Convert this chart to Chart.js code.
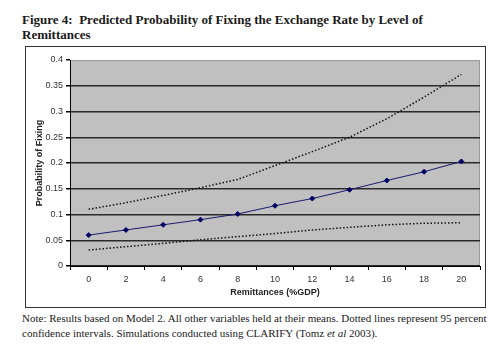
<!DOCTYPE html>
<html>
<head>
<meta charset="utf-8">
<script src="https://cdn.jsdelivr.net/npm/chart.js@4.4.0/dist/chart.umd.min.js"></script>
<style>
  html, body { margin: 0; padding: 0; background: #fff; }
  body { width: 500px; height: 353px; position: relative; overflow: hidden; }
  #title { position: absolute; left: 22px; top: 12px; font-family: "Liberation Serif", "Times New Roman", serif; font-weight: bold; font-size: 13px; line-height: 15px; color: #1a1a1a; white-space: nowrap; }
  #box { position: absolute; left: 25px; top: 46px; width: 459px; height: 260px; border: 1px solid #333; }
  #note { position: absolute; left: 22px; top: 311px; font-family: "Liberation Serif", "Times New Roman", serif; font-size: 11px; line-height: 14.5px; color: #1a1a1a; white-space: nowrap; }
  canvas { display: block; }
</style>
</head>
<body>
<div id="title">Figure 4:&nbsp; Predicted Probability of Fixing the Exchange Rate by Level of<br>Remittances</div>
<div id="box"><canvas id="c" width="459" height="260"></canvas></div>
<div id="note">Note: Results based on Model 2. All other variables held at their means. Dotted lines represent 95 percent<br>confidence intervals. Simulations conducted using CLARIFY (Tomz <i>et al</i> 2003).</div>
<script>
const remittances = ['0', '2', '4', '6', '8', '10', '12', '14', '16', '18', '20'];
const probability = [0.060, 0.070, 0.080, 0.090, 0.101, 0.117, 0.131, 0.148, 0.166, 0.183, 0.203];
const upperCI = [0.110, 0.123, 0.137, 0.152, 0.168, 0.195, 0.222, 0.250, 0.286, 0.328, 0.372];
const lowerCI = [0.031, 0.0375, 0.044, 0.051, 0.057, 0.063, 0.070, 0.075, 0.080, 0.083, 0.084];
const yTicks = [0, 0.05, 0.1, 0.15, 0.2, 0.25, 0.3, 0.35, 0.4];

const plotBg = {
  id: 'plotBg',
  beforeDraw(chart) {
    const { ctx, chartArea: a } = chart;
    ctx.save();
    ctx.fillStyle = '#c0c0c0';
    ctx.fillRect(a.left, a.top, a.right - a.left, a.bottom - a.top);
    ctx.strokeStyle = '#9a9a9a';
    ctx.lineWidth = 1;
    ctx.strokeRect(a.left + 0.5, a.top + 0.5, a.right - a.left - 1, a.bottom - a.top - 1);
    ctx.restore();
  }
};

const axisFont = { family: '"Liberation Sans", Arial, sans-serif', size: 9 };

new Chart(document.getElementById('c'), {
  type: 'line',
  data: {
    labels: remittances,
    datasets: [
      {
        label: 'Upper 95% CI',
        data: upperCI,
        borderColor: '#111',
        borderWidth: 1.5,
        borderDash: [1.5, 2],
        pointRadius: 0,
        fill: false,
        tension: 0
      },
      {
        label: 'Predicted probability',
        data: probability,
        borderColor: '#1a1a6e',
        backgroundColor: '#000066',
        borderWidth: 1,
        pointStyle: 'rectRot',
        pointRadius: 2.5,
        pointBorderWidth: 1,
        pointBorderColor: '#000066',
        fill: false,
        tension: 0
      },
      {
        label: 'Lower 95% CI',
        data: lowerCI,
        borderColor: '#111',
        borderWidth: 1.5,
        borderDash: [1.5, 2],
        pointRadius: 0,
        fill: false,
        tension: 0
      }
    ]
  },
  options: {
    responsive: false,
    animation: false,
    devicePixelRatio: 1,
    layout: { padding: { left: 0, right: 5, top: 13, bottom: 0 } },
    plugins: { legend: { display: false }, tooltip: { enabled: false } },
    scales: {
      x: {
        type: 'category',
        offset: true,
        afterFit(s) { s.height = 41; },
        grid: { offset: true, drawOnChartArea: false, drawTicks: true, tickLength: 4, tickColor: '#000', color: '#000' },
        border: { color: '#000', width: 1 },
        ticks: { font: axisFont, color: '#333', padding: 4, maxRotation: 0 },
        title: { display: true, text: 'Remittances (%GDP)', font: { family: '"Liberation Sans", Arial, sans-serif', size: 9, weight: 'bold' }, color: '#222', padding: { top: 0, bottom: 9 } }
      },
      y: {
        min: 0,
        max: 0.4,
        afterFit(s) { s.width = 44; },
        afterBuildTicks(s) { s.ticks = yTicks.map(v => ({ value: v })); },
        grid: {
          drawTicks: true,
          tickLength: 4,
          tickColor: '#000',
          color: (c) => (c.tick && c.tick.value >= 0.39) ? 'rgba(0,0,0,0)' : '#2a2a2a',
          lineWidth: 1.5
        },
        border: { color: '#000', width: 1 },
        ticks: { font: axisFont, color: '#333', padding: 3, callback: (v) => String(Math.round(v * 100) / 100) },
        title: { display: true, text: 'Probability of Fixing', font: { family: '"Liberation Sans", Arial, sans-serif', size: 9, weight: 'bold' }, color: '#222', padding: { top: 8, bottom: 0 } }
      }
    }
  },
  plugins: [plotBg]
});
</script>
</body>
</html>
